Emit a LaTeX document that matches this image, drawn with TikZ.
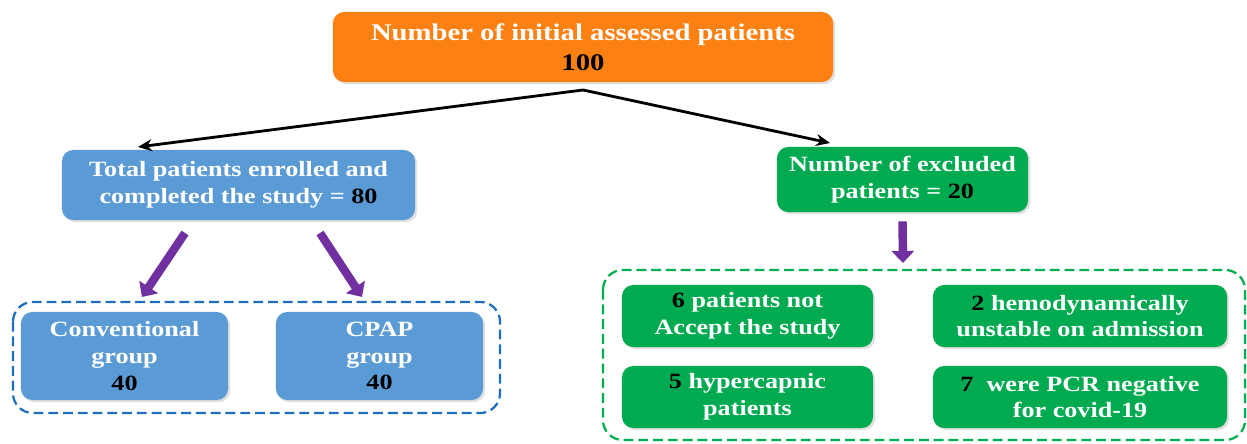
\documentclass[tikz,border=0pt]{standalone}
\usepackage{fontspec}
\setmainfont{Liberation Serif}
\newfontfamily\wideserif[FakeStretch=1.2]{Liberation Serif}
\usepackage{xcolor}
\usetikzlibrary{arrows.meta,shadows}
\definecolor{cOrange}{RGB}{253,128,19}
\definecolor{cBlue}{RGB}{91,155,213}
\definecolor{cGreen}{RGB}{0,170,80}
\definecolor{cPurple}{RGB}{112,48,160}
\definecolor{cBlueLine}{RGB}{30,110,190}
\definecolor{cGreenLine}{RGB}{0,176,80}
\newcommand{\num}[1]{{\color{black}#1}}
\begin{document}
\begin{tikzpicture}[x=0.025cm,y=-0.025cm,
  box/.style={rounded corners=8pt, text=white, align=center, inner sep=0pt,
    font=\wideserif\bfseries\fontsize{15.5}{19}\selectfont,
    drop shadow={opacity=0.25, shadow xshift=1.5pt, shadow yshift=-1.5pt}},
  boxorange/.style={box, fill=cOrange, minimum width=12.5cm, minimum height=1.75cm,
    font=\wideserif\bfseries\fontsize{17}{21}\selectfont},
  boxblue/.style={box, fill=cBlue},
  boxgreen/.style={box, fill=cGreen},
  frame/.style={line width=1.6pt, dash pattern=on 7pt off 3.5pt, rounded corners=14pt},
  blackarrow/.style={line width=2pt, -{Stealth[length=0.35cm, width=0.3cm]}},
  purplearrow/.style={cPurple, line width=6pt, -{Triangle[length=0.3cm, width=0.55cm]}}]
  \useasboundingbox (0,0) rectangle (1247,444);
  % 顶部
  \node[boxorange] (initial) at (583,47) {Number of initial assessed patients\\ \num{100}};
  % 第二层
  \node[boxblue, minimum width=8.825cm, minimum height=1.75cm] (enrolled) at (238.5,185)
    {Total patients enrolled and\\ completed the study = \num{80}};
  \node[boxgreen, minimum width=6.275cm, minimum height=1.625cm] (excluded) at (902.5,179.5)
    {Number of excluded\\ patients = \num{20}};
  % 分组
  \draw[frame, cBlueLine] (13,302) rectangle (500,413);
  \node[boxblue, minimum width=5.175cm, minimum height=2.2cm] (conv) at (124.5,356)
    {Conventional\\ group\\ \num{40}};
  \node[boxblue, minimum width=5.175cm, minimum height=2.2cm] (cpap) at (379.5,356)
    {CPAP\\ group\\ \num{40}};
  % 排除原因
  \draw[frame, cGreenLine] (603,270) rectangle (1245,440);
  \node[boxgreen, minimum width=6.275cm, minimum height=1.55cm] (refuse) at (747.5,316)
    {\num{6} patients not\\ Accept the study};
  \node[boxgreen, minimum width=7.35cm, minimum height=1.55cm] (unstable) at (1080,316)
    {\num{2} hemodynamically\\ unstable on admission};
  \node[boxgreen, minimum width=6.275cm, minimum height=1.55cm] (hyper) at (747.5,397)
    {\num{5} hypercapnic\\ patients};
  \node[boxgreen, minimum width=7.35cm, minimum height=1.55cm] (pcr) at (1080,397)
    {\num{7}\ \ were PCR negative\\ for covid-19};
  % 箭头
  \coordinate (split) at (583,90);
  \coordinate (toleft) at (138,147);
  \coordinate (toright) at (830,143);
  \draw[blackarrow] (split) -- (toleft);
  \draw[blackarrow] (split) -- (toright);
  \draw[purplearrow] (185,233) -- (142,297);
  \draw[purplearrow] (320,233) -- (362,297);
  \draw[purplearrow] (excluded.south) ++(0,9) -- (903,263);
\end{tikzpicture}
\end{document}
